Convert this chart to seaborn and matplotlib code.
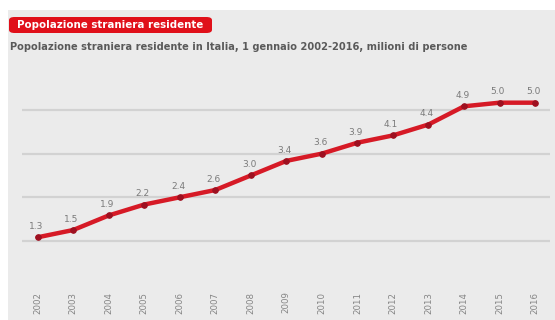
import matplotlib
matplotlib.use("Agg")
import matplotlib.pyplot as plt
import seaborn as sns
import pandas as pd
from matplotlib.patches import Rectangle, FancyBboxPatch

years = ["2002", "2003", "2004", "2005", "2006", "2007", "2008", "2009",
         "2010", "2011", "2012", "2013", "2014", "2015", "2016"]
values = [1.3, 1.5, 1.9, 2.2, 2.4, 2.6, 3.0, 3.4, 3.6, 3.9, 4.1, 4.4, 4.9, 5.0, 5.0]
labels = ["1.3", "1.5", "1.9", "2.2", "2.4", "2.6", "3.0", "3.4", "3.6", "3.9",
          "4.1", "4.4", "4.9", "5.0", "5.0"]
grid_values = [1.2, 2.4, 3.6, 4.8]
title = "Popolazione straniera residente"
subtitle = "Popolazione straniera residente in Italia, 1 gennaio 2002-2016, milioni di persone"

sns.set_theme(style="white")
plt.rcParams['font.family'] = ['DejaVu Sans']

W, H = 555, 320
fig = plt.figure(figsize=(W / 100, H / 100), dpi=100)
fig.patch.set_facecolor("white")
bg = "#ebebeb"
fig.patches.append(Rectangle((8 / W, 0), 1 - 8 / W, 1 - 10 / H, transform=fig.transFigure,
                             facecolor=bg, edgecolor="none", zorder=-5))

left, right = 22 / W, 550 / W
bottom, top = 1 - 284.6 / H, 1 - 66.3 / H
ax = fig.add_axes([left, bottom, right - left, top - bottom])
ax.set_facecolor("none")
ax.set_zorder(5)

df = pd.DataFrame({"x": list(range(len(years))), "v": values})
for g in grid_values:
    ax.axhline(g, color="#d2d2d2", lw=1.6, zorder=1)

sns.lineplot(data=df, x="x", y="v", ax=ax, color="#d61a26", lw=3.2,
             marker="o", markersize=4, markerfacecolor="#9e1020",
             markeredgecolor="#9e1020", zorder=3)

for xi, v, lab in zip(df["x"], values, labels):
    ax.text(xi - 0.05, v + 0.17, lab, ha="center", va="bottom", fontsize=6.5,
            color="#7a7a7a", zorder=4)

ax.set_xlim(-0.44, 14.42)
ax.set_ylim(0, 6)
ax.set_xticks(range(len(years)))
ax.set_xticklabels(years, rotation=90, fontsize=6.2, color="#858585")
ax.tick_params(axis="x", length=0, pad=5)
ax.set_yticks([])
ax.set_xlabel("")
ax.set_ylabel("")
for s in ax.spines.values():
    s.set_visible(False)

# title banner
fig.patches.append(FancyBboxPatch((9 / W, 1 - 33 / H), 203 / W, 16 / H,
                                  boxstyle="round,pad=0,rounding_size=0.01",
                                  transform=fig.transFigure, facecolor="#e0101a",
                                  edgecolor="none", zorder=2))
fig.text(17 / W, 1 - 25 / H, title, color="white", fontsize=7.4, fontweight="bold",
         ha="left", va="center")
fig.text(10 / W, 1 - 47 / H, subtitle, color="#5a5a5a", fontsize=7.1, fontweight="bold",
         ha="left", va="center")

fig.savefig("out.png", dpi=100, facecolor=fig.get_facecolor())
